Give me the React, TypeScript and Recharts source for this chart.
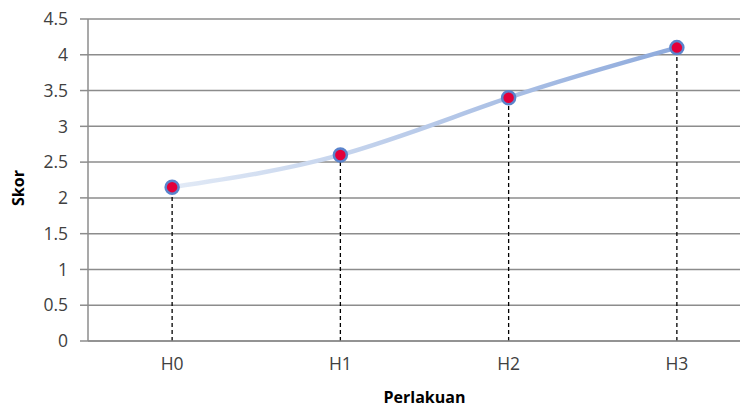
import React from 'react';
import { LineChart, Line, XAxis, YAxis, CartesianGrid, ReferenceLine, Label } from 'recharts';

const perlakuan = ['H0', 'H1', 'H2', 'H3'];
const skor = [2.15, 2.6, 3.4, 4.1];
const skorTicks = [0, 0.5, 1, 1.5, 2, 2.5, 3, 3.5, 4, 4.5];

const data = perlakuan.map((p, i) => ({ name: p, skor: skor[i] }));

const font = "'Open Sans', 'Noto Sans', sans-serif";
const gridColor = '#8c8c8c';

// vertical axis title, sitting a little below the plot's centre
const SkorTitle = (props: any) => {
  const { viewBox } = props;
  const x = 10;
  const y = viewBox.y + viewBox.height / 2 + 8;
  return (
    <text
      x={x}
      y={y}
      transform={`rotate(-90, ${x}, ${y})`}
      textAnchor="middle"
      dominantBaseline="central"
      style={{ fill: '#000', fontSize: 16, fontWeight: 700, fontFamily: font }}
    >
      Skor
    </text>
  );
};

export default function App() {
  return (
    <div style={{ width: 760, height: 408, marginTop: -8, fontFamily: font }}>
      <LineChart
        width={760}
        height={408}
        data={data}
        margin={{ top: 19, right: 7, bottom: 0, left: 0 }}
      >
        <defs>
          <linearGradient id="skorLine" x1="0" y1="0" x2="1" y2="0">
            <stop offset="0%" stopColor="#e2eaf6" />
            <stop offset="100%" stopColor="#8eaadc" />
          </linearGradient>
        </defs>
        <CartesianGrid vertical={false} stroke={gridColor} strokeWidth={1.5} />
        <XAxis
          dataKey="name"
          scale="band"
          height={67}
          tickLine={false}
          tickSize={0}
          tickMargin={17}
          stroke={gridColor}
          strokeWidth={1.5}
          tick={{ fill: '#404040', fontSize: 17.5, fontFamily: font }}
        >
          <Label value="Perlakuan" position="insideBottom" offset={5} style={{ fill: '#000', fontSize: 16, fontWeight: 700, fontFamily: font }} />
        </XAxis>
        <YAxis
          width={80}
          domain={[0, 4.5]}
          ticks={skorTicks}
          interval={0}
          tickSize={8}
          tickMargin={12}
          stroke={gridColor}
          strokeWidth={1.5}
          tick={{ fill: '#404040', fontSize: 17.5, fontFamily: font }}
        >
          <Label content={SkorTitle} />
        </YAxis>
        <Line
          type="natural"
          dataKey="skor"
          stroke="url(#skorLine)"
          strokeWidth={4.5}
          isAnimationActive={false}
          dot={{ r: 6.5, fill: '#e3003a', stroke: '#5a84cc', strokeWidth: 2.5 }}
          activeDot={false}
        />
        {data.map((d) => (
          <ReferenceLine
            key={d.name}
            segment={[{ x: d.name, y: 0 }, { x: d.name, y: d.skor }]}
            stroke="#000"
            strokeWidth={1.3}
            strokeDasharray="4 3"
          />
        ))}
      </LineChart>
    </div>
  );
}
